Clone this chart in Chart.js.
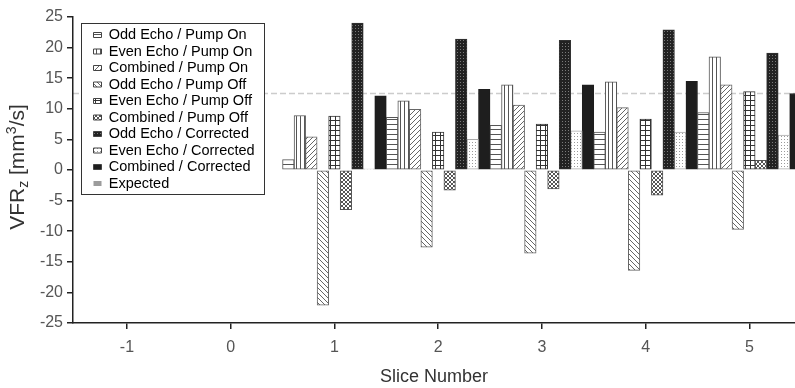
<!DOCTYPE html>
<html>
<head>
<meta charset="utf-8">
<script src="https://cdn.jsdelivr.net/npm/chart.js@4/dist/chart.umd.min.js"></script>
<style>
html,body{margin:0;padding:0;background:#fff;overflow:hidden}
#wrap{width:795px;height:388px;position:relative}
</style>
</head>
<body>
<div id="wrap"><canvas id="c" width="795" height="388"></canvas></div>
<script>
// ---------- data ----------
const sliceNumbers = [1, 2, 3, 4, 5];
const xTickValues = [-1, 0, 1, 2, 3, 4, 5];
const yTickValues = [-25, -20, -15, -10, -5, 0, 5, 10, 15, 20, 25];
const seriesNames = [
  'Odd Echo / Pump On', 'Even Echo / Pump On', 'Combined / Pump On',
  'Odd Echo / Pump Off', 'Even Echo / Pump Off', 'Combined / Pump Off',
  'Odd Echo / Corrected', 'Even Echo / Corrected', 'Combined / Corrected'
];
const oddEchoPumpOn      = [1.7, 8.6, 7.3, 6.2, 9.4];
const evenEchoPumpOn     = [8.9, 11.3, 13.9, 14.4, 18.5];
const combinedPumpOn     = [5.4, 9.9, 10.6, 10.2, 13.9];
const oddEchoPumpOff     = [-22.1, -12.6, -13.6, -16.4, -9.7];
const evenEchoPumpOff    = [8.8, 6.2, 7.5, 8.3, 12.8];
const combinedPumpOff    = [-6.5, -3.3, -3.1, -4.1, 1.6];
const oddEchoCorrected   = [24.0, 21.4, 21.2, 22.9, 19.1];
const evenEchoCorrected  = [0.2, 5.0, 6.4, 6.2, 5.7];
const combinedCorrected  = [12.1, 13.2, 13.9, 14.5, 12.5];
const expectedLabel = 'Expected';
const expectedValue = [12.5];
const xAxisRange = [-1.52, 5.44];
const yAxisRange = [-25, 25];
const xTitle = 'Slice Number';

// ---------- patterns ----------
const FONT = '"Liberation Sans", Arial, Helvetica, sans-serif';
const mainCtx = document.getElementById('c').getContext('2d');
function makePattern(size, bg, draw) {
  const c = document.createElement('canvas');
  c.width = size; c.height = size;
  const g = c.getContext('2d');
  g.fillStyle = bg; g.fillRect(0, 0, size, size);
  draw(g, size);
  return mainCtx.createPattern(c, 'repeat');
}
function diag(g, s, dir) {
  g.beginPath();
  if (dir > 0) {
    g.moveTo(0, s); g.lineTo(s, 0);
    g.moveTo(-1, 1); g.lineTo(1, -1);
    g.moveTo(s - 1, s + 1); g.lineTo(s + 1, s - 1);
  } else {
    g.moveTo(0, 0); g.lineTo(s, s);
    g.moveTo(-1, s - 1); g.lineTo(1, s + 1);
    g.moveTo(s - 1, -1); g.lineTo(s + 1, 1);
  }
  g.stroke();
}
const fills = [
  makePattern(5, '#fff', (g, s) => { g.fillStyle = '#555'; g.fillRect(0, s - 1, s, 1); }),
  makePattern(4, '#fff', (g, s) => { g.fillStyle = '#555'; g.fillRect(0, 0, 1, s); }),
  makePattern(5, '#fff', (g, s) => { g.strokeStyle = '#666'; g.lineWidth = 1; diag(g, s, 1); }),
  makePattern(5, '#fff', (g, s) => { g.strokeStyle = '#666'; g.lineWidth = 1; diag(g, s, -1); }),
  makePattern(5, '#fff', (g, s) => { g.fillStyle = '#333'; g.fillRect(0, 0, s, 1); g.fillRect(0, 0, 1, s); }),
  makePattern(4, '#fff', (g, s) => { g.strokeStyle = '#555'; g.lineWidth = 1; diag(g, s, 1); diag(g, s, -1); }),
  makePattern(3, '#222', (g, s) => { g.fillStyle = '#7a7a7a'; g.fillRect(1, 1, 1, 1); }),
  makePattern(3, '#fff', (g, s) => { g.fillStyle = '#9a9a9a'; g.fillRect(1, 1, 1, 1); }),
  '#1e1e1e'
];
const borders = ['#555', '#555', '#666', '#666', '#333', '#555', '#333', '#aaa', '#1e1e1e'];

const seriesValues = [
  oddEchoPumpOn, evenEchoPumpOn, combinedPumpOn,
  oddEchoPumpOff, evenEchoPumpOff, combinedPumpOff,
  oddEchoCorrected, evenEchoCorrected, combinedCorrected
];

const datasets = seriesValues.map((vals, i) => ({
  label: seriesNames[i],
  data: sliceNumbers.map((x, k) => ({ x: x, y: vals[k] })),
  backgroundColor: fills[i],
  borderColor: borders[i],
  borderWidth: 1,
  borderSkipped: false,
  categoryPercentage: 1.0,
  barPercentage: 1.0
}));

// ---------- plugins ----------
const LEGEND_FONT = 14.5, LEGEND_PAD = 2, LEGEND_BOX_W = 8;
const legendPlacer = {
  id: 'legendPlacer',
  afterLayout(chart) {
    const lg = chart.legend, ca = chart.chartArea;
    if (!lg) return;
    const w = lg.width;
    lg.left = ca.left + 18.5;
    lg.top = ca.top + 8.75;
    lg.right = lg.left + w;
    lg.bottom = ca.bottom;
  },
  beforeDraw(chart) {
    const ctx = chart.ctx, ca = chart.chartArea, y = chart.scales.y;
    // expected line
    const py = y.getPixelForValue(expectedValue[0]);
    ctx.save();
    ctx.strokeStyle = '#cccccc';
    ctx.lineWidth = 1.5;
    ctx.setLineDash([6, 3]);
    ctx.beginPath();
    ctx.moveTo(ca.left, py);
    ctx.lineTo(ca.right, py);
    ctx.stroke();
    ctx.restore();
    // legend frame
    const lg = chart.legend;
    if (!lg) return;
    ctx.save();
    ctx.font = LEGEND_FONT + 'px ' + FONT;
    let maxW = 0;
    lg.legendItems.forEach(it => { maxW = Math.max(maxW, ctx.measureText(it.text).width); });
    const boxX = lg.left + LEGEND_PAD;
    const left = Math.round(boxX - 13) + 0.5;
    const right = Math.round(boxX + LEGEND_BOX_W + LEGEND_FONT / 2 + maxW + 9) + 0.5;
    const top = Math.round(lg.top - 2.5) + 0.5;
    const n = lg.legendItems.length;
    const bottom = Math.round(lg.top + LEGEND_PAD + n * (LEGEND_FONT + LEGEND_PAD) + 1) + 0.5;
    ctx.fillStyle = '#fff';
    ctx.fillRect(left, top, right - left, bottom - top);
    ctx.strokeStyle = '#333';
    ctx.lineWidth = 1;
    ctx.strokeRect(left, top, right - left, bottom - top);
    ctx.restore();
  },
  afterDraw(chart) {
    // y-axis title with subscript and superscript
    const ctx = chart.ctx, ca = chart.chartArea;
    const big = '21px ' + FONT, small = '14px ' + FONT;
    const parts = [
      { t: 'VFR', f: big, dy: 0 },
      { t: 'z', f: small, dy: 4 },
      { t: ' [mm', f: big, dy: 0 },
      { t: '3', f: small, dy: -8 },
      { t: '/s]', f: big, dy: 0 }
    ];
    ctx.save();
    let total = 0;
    parts.forEach(p => { ctx.font = p.f; p.w = ctx.measureText(p.t).width; total += p.w; });
    ctx.translate(16, (ca.top + ca.bottom) / 2 - 3);
    ctx.rotate(-Math.PI / 2);
    ctx.fillStyle = '#333';
    ctx.textBaseline = 'alphabetic';
    ctx.textAlign = 'left';
    let x = -total / 2;
    parts.forEach(p => { ctx.font = p.f; ctx.fillText(p.t, x, 7.5 + p.dy); x += p.w; });
    ctx.restore();
  }
};

// ---------- chart ----------
new Chart(document.getElementById('c'), {
  type: 'bar',
  data: { datasets: datasets },
  options: {
    responsive: false,
    animation: false,
    devicePixelRatio: 1,
    layout: { padding: { left: 0, right: 0, top: 17, bottom: 0 } },
    plugins: {
      tooltip: { enabled: false },
      legend: {
        position: 'chartArea',
        align: 'start',
        labels: {
          font: { family: FONT, size: LEGEND_FONT },
          color: '#222',
          boxWidth: LEGEND_BOX_W,
          boxHeight: 5,
          padding: LEGEND_PAD,
          generateLabels(chart) {
            const items = chart.data.datasets.map((ds, i) => ({
              text: ds.label,
              fillStyle: ds.backgroundColor,
              strokeStyle: '#444',
              lineWidth: 1,
              hidden: false,
              datasetIndex: i
            }));
            items.push({ text: expectedLabel, fillStyle: '#9c9c9c', strokeStyle: '#9c9c9c', lineWidth: 0, hidden: false });
            return items;
          }
        }
      }
    },
    scales: {
      x: {
        type: 'linear',
        offset: false,
        min: xAxisRange[0],
        max: xAxisRange[1],
        afterBuildTicks: s => { s.ticks = xTickValues.map(v => ({ value: v })); },
        afterFit: s => { s.height = 65; },
        ticks: { font: { family: FONT, size: 16 }, color: '#555', padding: 9, callback: v => String(v) },
        grid: { display: true, offset: false, drawOnChartArea: false, drawTicks: true, tickLength: 6, color: '#222', lineWidth: 1.5 },
        border: { display: true, color: '#222', width: 1.5 },
        title: { display: true, text: xTitle, font: { family: FONT, size: 18 }, color: '#333', padding: { top: 0, bottom: 0 } }
      },
      y: {
        min: yAxisRange[0],
        max: yAxisRange[1],
        afterBuildTicks: s => { s.ticks = yTickValues.map(v => ({ value: v })); },
        afterFit: s => { s.width = 73; },
        ticks: { font: { family: FONT, size: 16 }, color: '#555', padding: 4, callback: v => String(v) },
        grid: { display: true, drawOnChartArea: false, drawTicks: true, tickLength: 6, color: '#222', lineWidth: 1.5 },
        border: { display: true, color: '#222', width: 1.5 }
      }
    }
  },
  plugins: [legendPlacer]
});
</script>
</body>
</html>
